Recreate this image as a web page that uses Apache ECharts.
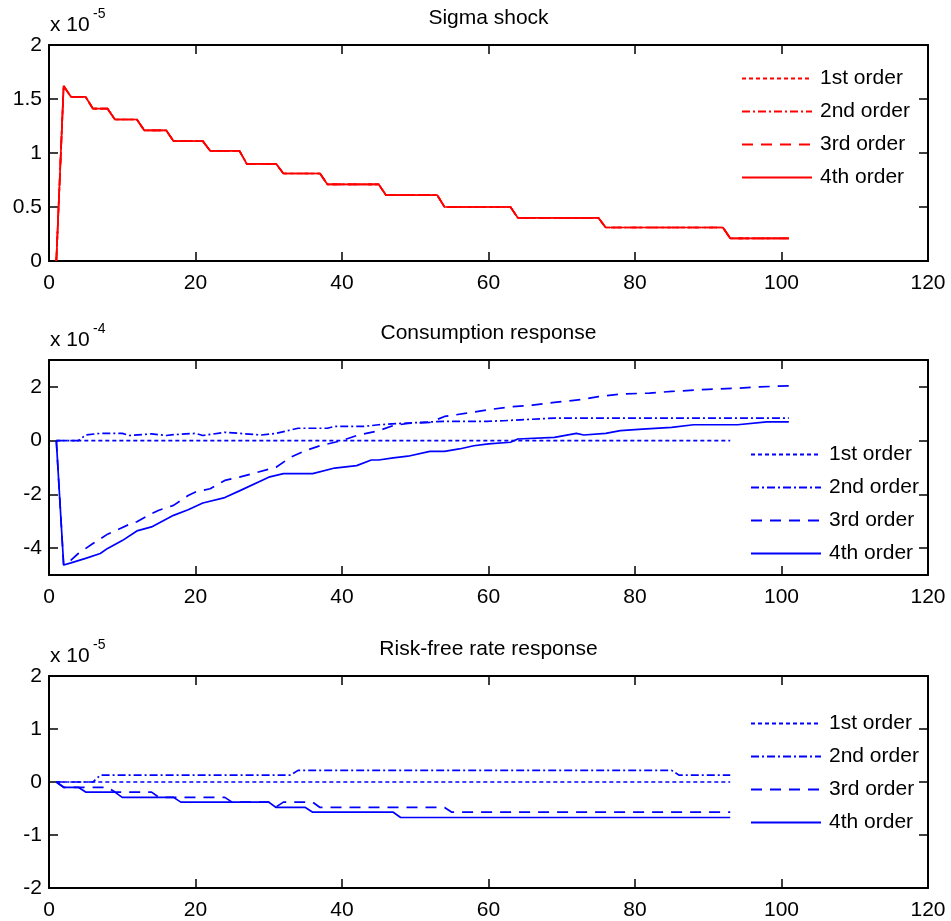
<!DOCTYPE html>
<html><head><meta charset="utf-8">
<script src="https://cdn.jsdelivr.net/npm/echarts@6/dist/echarts.min.js"></script>
<style>html,body{margin:0;padding:0;background:#fff}#c{width:951px;height:921px}</style>
</head><body><div id="c"></div><script>
const titles = ['Sigma shock', 'Consumption response', 'Risk-free rate response'];
const exponents = ['-5', '-4', '-5'];
const orderNames = ['1st order', '2nd order', '3rd order', '4th order'];
const xTicks = [0, 20, 40, 60, 80, 100, 120];
const sigmaYTicks = [0, 0.5, 1, 1.5, 2];
const consYTicks = [-4, -2, 0, 2];
const rateYTicks = [-2, -1, 0, 1, 2];

// Panel 1: Sigma shock (units of 1e-5); all four orders coincide
const sigmaT = [1, 2, 3, 5, 6, 8, 9, 12, 13, 16, 17, 21, 22, 26, 27, 31, 32, 37, 38, 45, 46, 53, 54, 63, 64, 75, 76, 92, 93, 101];
const sigmaV = [0, 1.62, 1.52, 1.52, 1.41, 1.41, 1.31, 1.31, 1.21, 1.21, 1.11, 1.11, 1.02, 1.02, 0.90, 0.90, 0.81, 0.81, 0.71, 0.71, 0.61, 0.61, 0.50, 0.50, 0.40, 0.40, 0.31, 0.31, 0.21, 0.21];

// Panel 2: Consumption response (units of 1e-4)
const cons1T = [1, 93];
const cons1V = [0, 0];
const cons2T = [1, 4, 5, 7, 10, 11, 14, 16, 17, 20, 21, 24, 26, 29, 31, 34, 38, 39, 43, 45, 48, 51, 54, 60, 62, 69, 101];
const cons2V = [0, 0, 0.21, 0.27, 0.27, 0.19, 0.25, 0.19, 0.22, 0.27, 0.19, 0.31, 0.27, 0.21, 0.27, 0.46, 0.46, 0.53, 0.53, 0.59, 0.64, 0.68, 0.72, 0.72, 0.74, 0.84, 0.84];
const cons3T = [1, 2, 3, 4, 6, 8, 11, 12, 14, 15, 17, 19, 20, 22, 24, 26, 28, 31, 33, 35, 37, 40, 42, 45, 47, 49, 52, 54, 57, 60, 63, 66, 69, 73, 75, 78, 82, 85, 90, 94, 97, 101];
const cons3V = [0, -4.63, -4.45, -4.2, -3.83, -3.48, -3.11, -3.02, -2.72, -2.59, -2.41, -2.04, -1.91, -1.79, -1.48, -1.36, -1.21, -0.99, -0.62, -0.37, -0.19, 0, 0.19, 0.37, 0.56, 0.64, 0.68, 0.90, 1.02, 1.15, 1.26, 1.32, 1.42, 1.54, 1.64, 1.73, 1.77, 1.83, 1.91, 1.95, 2.0, 2.04];
const cons4T = [1, 2, 3, 5, 7, 8, 10, 12, 14, 17, 19, 21, 24, 26, 30, 32, 36, 39, 42, 44, 45, 47, 49, 52, 54, 56, 58, 60, 63, 64, 69, 72, 73, 76, 78, 81, 85, 88, 94, 98, 101];
const cons4V = [0, -4.63, -4.55, -4.38, -4.2, -4.01, -3.72, -3.36, -3.21, -2.78, -2.57, -2.32, -2.12, -1.87, -1.36, -1.23, -1.23, -1.02, -0.93, -0.72, -0.72, -0.64, -0.58, -0.40, -0.40, -0.31, -0.19, -0.12, -0.06, 0.06, 0.12, 0.27, 0.21, 0.27, 0.37, 0.43, 0.49, 0.59, 0.59, 0.70, 0.70];

// Panel 3: Risk-free rate response (units of 1e-5)
const rate1T = [1, 93];
const rate1V = [0, 0];
const rate2T = [1, 6, 7, 33, 34, 85, 86, 93];
const rate2V = [0, 0, 0.13, 0.13, 0.22, 0.22, 0.13, 0.13];
const rate3T = [1, 2, 8, 9, 14, 15, 24, 25, 30, 31, 32, 36, 37, 54, 55, 93];
const rate3V = [0, -0.10, -0.10, -0.19, -0.19, -0.29, -0.29, -0.38, -0.38, -0.47, -0.38, -0.38, -0.48, -0.48, -0.57, -0.57];
const rate4T = [1, 2, 4, 5, 9, 10, 17, 18, 30, 31, 35, 36, 47, 48, 93];
const rate4V = [0, -0.10, -0.10, -0.19, -0.19, -0.29, -0.29, -0.38, -0.38, -0.48, -0.48, -0.57, -0.57, -0.67, -0.67];

const pts = (t, v) => t.map((x, i) => [x, v[i]]);
const FONT = '"Liberation Sans", Arial, sans-serif';
const RED = '#ff0000', BLUE = '#0000ff';
const dashTypes = [[4, 3], [8, 3, 2, 3], [11, 8], 'solid'];

const panels = [
  { top: 45, height: 216, min: 0, max: 2, ticks: sigmaYTicks, color: RED,
    data: [pts(sigmaT, sigmaV), pts(sigmaT, sigmaV), pts(sigmaT, sigmaV), pts(sigmaT, sigmaV)],
    legendLeft: 736, legendTop: 63 },
  { top: 360, height: 215, min: -5, max: 3, ticks: consYTicks, color: BLUE,
    data: [pts(cons1T, cons1V), pts(cons2T, cons2V), pts(cons3T, cons3V), pts(cons4T, cons4V)],
    legendLeft: 745, legendTop: 439 },
  { top: 676, height: 216, min: -2, max: 2, ticks: rateYTicks, color: BLUE,
    data: [pts(rate1T, rate1V), pts(rate2T, rate2V), pts(rate3T, rate3V), pts(rate4T, rate4V)],
    legendLeft: 745, legendTop: 708 }
];

const grid = [], xAxis = [], yAxis = [], series = [], legend = [], graphic = [];
const axisLine = { show: true, onZero: false, lineStyle: { color: '#000', width: 2 } };
const tickStyle = (vals) => ({ show: true, inside: true, length: 9, customValues: vals, lineStyle: { color: '#000', width: 1.5 } });

panels.forEach((p, g) => {
  grid.push({ left: 49, width: 879, top: p.top, height: p.height });
  xAxis.push({ type: 'value', gridIndex: g, position: 'bottom', min: 0, max: 120, interval: 20,
    axisLine, axisTick: tickStyle(xTicks), splitLine: { show: false },
    axisLabel: { customValues: xTicks, color: '#000', fontSize: 21, fontFamily: FONT, margin: 12 } });
  xAxis.push({ type: 'value', gridIndex: g, position: 'top', min: 0, max: 120, interval: 20,
    axisLine, axisTick: tickStyle(xTicks), splitLine: { show: false }, axisLabel: { show: false } });
  yAxis.push({ type: 'value', gridIndex: g, position: 'left', min: p.min, max: p.max,
    axisLine, axisTick: tickStyle(p.ticks), splitLine: { show: false },
    axisLabel: { customValues: p.ticks, color: '#000', fontSize: 21, fontFamily: FONT, margin: 7 } });
  yAxis.push({ type: 'value', gridIndex: g, position: 'right', min: p.min, max: p.max,
    axisLine, axisTick: tickStyle(p.ticks), splitLine: { show: false }, axisLabel: { show: false } });

  const names = orderNames.map(n => n + '|' + g);
  p.data.forEach((d, k) => {
    series.push({ type: 'line', name: names[k], xAxisIndex: 2 * g, yAxisIndex: 2 * g, data: d,
      symbol: 'none', showSymbol: false, silent: true, z: 2 + k,
      lineStyle: { color: p.color, width: 1.7, type: dashTypes[k] } });
  });
  legend.push({ data: names, orient: 'vertical', left: p.legendLeft, top: p.legendTop,
    itemWidth: 70, itemHeight: 21, itemGap: 12, selectedMode: false,
    itemStyle: { color: 'rgba(0,0,0,0)', borderColor: 'rgba(0,0,0,0)', borderWidth: 0, opacity: 0 },
    formatter: n => n.split('|')[0],
    textStyle: { color: '#000', fontSize: 21, fontFamily: FONT, lineHeight: 21, padding: [0, 0, 0, 3] } });

  graphic.push({ type: 'text', x: 488.5, y: p.top - 27,
    style: { text: titles[g], fill: '#000', font: '21px ' + FONT, textAlign: 'center', textVerticalAlign: 'middle' } });
  graphic.push({ type: 'text', x: 50, y: p.top - 19.5,
    style: { text: 'x 10', fill: '#000', font: '21px ' + FONT, textAlign: 'left', textVerticalAlign: 'middle' } });
  graphic.push({ type: 'text', x: 93, y: p.top - 31,
    style: { text: exponents[g], fill: '#000', font: '14px ' + FONT, textAlign: 'left', textVerticalAlign: 'middle' } });
});

const chart = echarts.init(document.getElementById('c'), null, { renderer: 'canvas' });
chart.setOption({ animation: false, backgroundColor: '#fff', grid, xAxis, yAxis, series, legend, graphic });
</script></body></html>
